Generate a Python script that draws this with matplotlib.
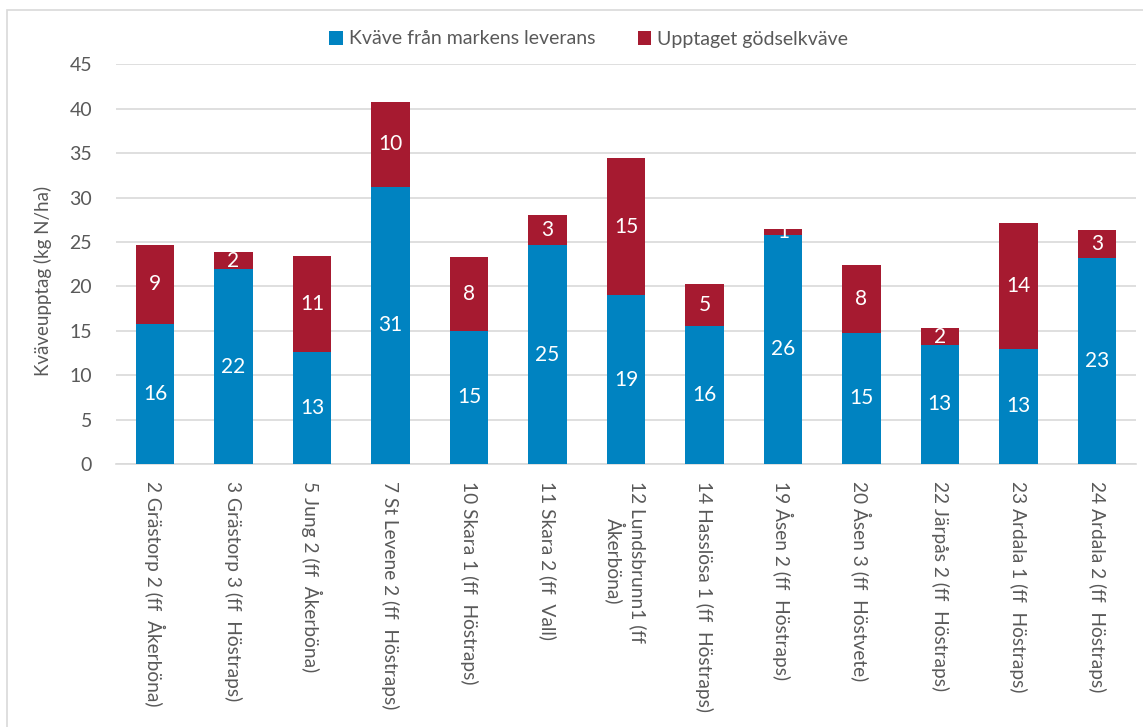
import matplotlib
matplotlib.use("Agg")
import matplotlib.pyplot as plt
from matplotlib.patches import Rectangle
import numpy as np

plt.rcParams['font.family'] = ['Lato', 'DejaVu Sans']

# data
sites = [
    "2 Grästorp 2 (ff  Åkerböna)",
    "3 Grästorp 3 (ff  Höstraps)",
    "5 Jung 2 (ff  Åkerböna)",
    "7 St Levene 2 (ff  Höstraps)",
    "10 Skara 1 (ff  Höstraps)",
    "11 Skara 2 (ff  Vall)",
    "12 Lundsbrunn1 (ff\nÅkerböna)",
    "14 Hasslösa 1 (ff  Höstraps)",
    "19 Åsen 2 (ff  Höstraps)",
    "20 Åsen 3 (ff  Höstvete)",
    "22 Järpås 2 (ff  Höstraps)",
    "23 Ardala 1 (ff  Höstraps)",
    "24 Ardala 2 (ff  Höstraps)",
]
mark_n = [15.8, 21.9, 12.6, 31.2, 15.0, 24.6, 19.0, 15.5, 25.8, 14.8, 13.4, 13.0, 23.2]
fert_n = [8.9, 1.95, 10.8, 9.6, 8.3, 3.4, 15.4, 4.8, 0.7, 7.6, 1.9, 14.1, 3.1]

blue = "#0083c1"
red = "#a61a30"
grey_txt = "#595959"

fig = plt.figure(figsize=(11.43, 7.27), dpi=100)
ax = fig.add_axes([0.1013, 0.3618, 0.8926, 0.5498])

x = np.arange(len(sites))
w = 0.49
b1 = ax.bar(x, mark_n, w, color=blue, label="Kväve från markens leverans", zorder=3)
b2 = ax.bar(x, fert_n, w, bottom=mark_n, color=red, label="Upptaget gödselkväve", zorder=3)

for bars in (b1, b2):
    ax.bar_label(bars, labels=[f"{v:.0f}" for v in bars.datavalues], label_type="center",
                 color="white", fontsize=15, zorder=4)

ax.set_xlim(-0.5, len(sites) - 0.5)
ax.set_ylim(0, 45)
ax.set_yticks(np.arange(0, 46, 5))
ax.yaxis.grid(True, color="#d9d9d9", linewidth=1.2, zorder=0)
ax.set_axisbelow(True)
for s in ("top", "right", "left"):
    ax.spines[s].set_visible(False)
ax.spines["bottom"].set_color("#d9d9d9")
ax.spines["bottom"].set_linewidth(1.2)
ax.tick_params(axis="both", length=0, colors=grey_txt, labelsize=14)
ax.tick_params(axis="y", pad=17)
ax.tick_params(axis="x", pad=12, labelsize=13.8)
ax.set_xticks(x)
ax.set_xticklabels(sites, rotation=270, ha="center", va="top", multialignment="center")

fig.text(0.038, 1 - 281 / 727, "Kväveupptag (kg N/ha)", rotation=90, ha="center", va="center",
         color=grey_txt, fontsize=13.5)

fig.legend(loc="center", bbox_to_anchor=(0.515, 1 - 39 / 727), ncol=2, frameon=False,
           fontsize=14, handlelength=0.7, handleheight=0.7, handletextpad=0.3,
           columnspacing=2.2, labelcolor=grey_txt)

# chart frame
fig.patches.append(Rectangle((7 / 1143, -0.1), 1.2, 1.1 - 10 / 727, transform=fig.transFigure,
                             fill=False, edgecolor="#d9d9d9", linewidth=1.2))

fig.savefig("out.png", dpi=100)
